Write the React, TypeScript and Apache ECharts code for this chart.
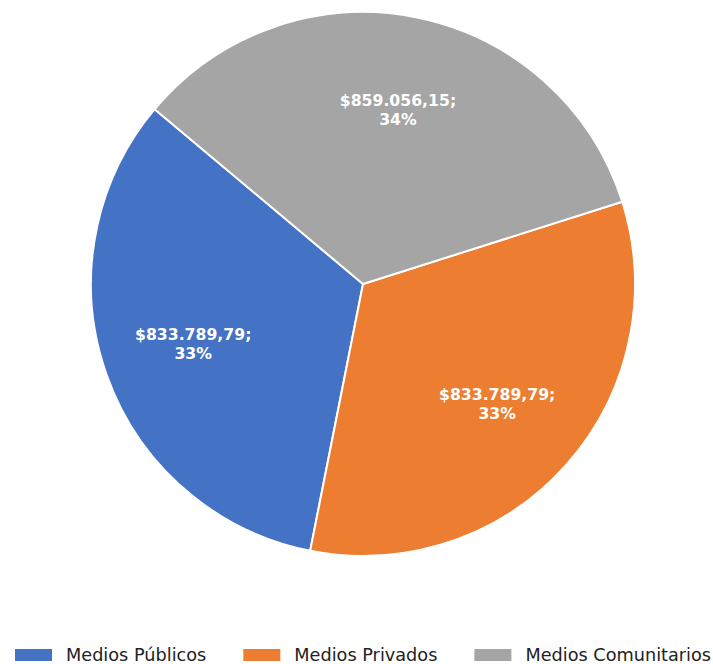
import React, { useEffect, useRef } from "react";
import * as echarts from "echarts";

const categories = ["Medios Públicos", "Medios Privados", "Medios Comunitarios"];
const values = [833789.79, 833789.79, 859056.15];
const valueLabels = ["$833.789,79", "$833.789,79", "$859.056,15"];
const percentLabels = ["33%", "33%", "34%"];
const colors = ["#4472C4", "#ED7D31", "#A5A5A5"];

export default function App() {
  const ref = useRef<HTMLDivElement>(null);
  useEffect(() => {
    if (!ref.current) return;
    const chart = echarts.init(ref.current, null, { renderer: "svg" });
    const data = categories.map((name, i) => ({
      name,
      value: values[i],
      itemStyle: { color: colors[i] },
    }));
    chart.setOption({
      animation: false,
      color: colors,
      legend: {
        data: categories,
        left: 13,
        top: 646,
        width: 705,
        padding: 0,
        itemWidth: 39,
        itemHeight: 14,
        itemGap: 35,
        icon: "rect",
        textStyle: {
          fontFamily: "DejaVu Sans",
          fontSize: 17.7,
          color: "#222",
          padding: [0, 0, 0, 8],
        },
      },
      series: [
        {
          type: "pie",
          center: [363, 284],
          radius: 272,
          startAngle: 140,
          clockwise: false,
          silent: true,
          label: { show: false },
          labelLine: { show: false },
          itemStyle: { borderColor: "#ffffff", borderWidth: 2 },
          data,
        },
        {
          type: "pie",
          center: [363, 284],
          radius: [82, 272],
          startAngle: 140,
          clockwise: false,
          silent: true,
          legendHoverLink: false,
          itemStyle: { color: "rgba(0,0,0,0)" },
          labelLine: { show: false },
          label: {
            show: true,
            position: "inside",
            color: "#ffffff",
            fontFamily: "DejaVu Sans",
            fontWeight: "bold",
            fontSize: 15.7,
            lineHeight: 19,
            align: "center",
            formatter: (p: any) =>
              valueLabels[p.dataIndex] + ";\n" + percentLabels[p.dataIndex],
          },
          data: categories.map((name, i) => ({
            name: name + " ",
            value: values[i],
            label: i === 2 ? { offset: [0, 3] } : undefined,
          })),
        },
      ],
    });
    return () => chart.dispose();
  }, []);
  return (
    <div
      ref={ref}
      style={{ position: "fixed", left: 0, top: 0, width: 713, height: 664, background: "#fff" }}
    />
  );
}
